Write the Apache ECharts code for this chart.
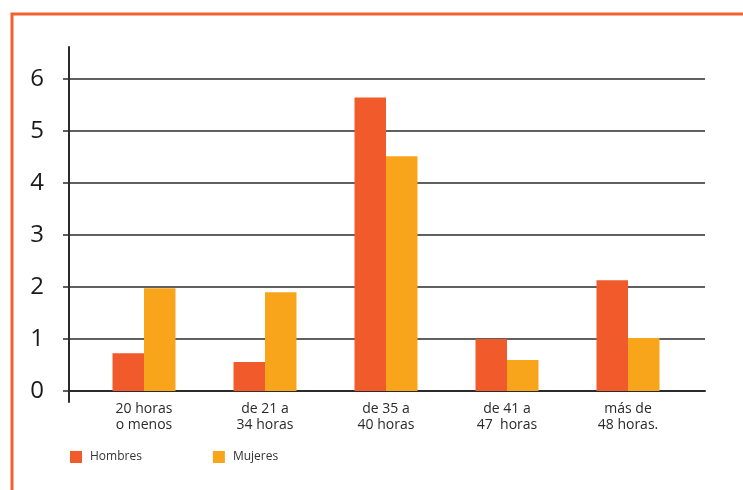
<!DOCTYPE html>
<html>
<head>
<meta charset="utf-8">
<script src="https://cdn.jsdelivr.net/npm/echarts@6/dist/echarts.min.js"></script>
<style>
html,body{margin:0;padding:0;background:#fff;}
#chart{width:743px;height:490px;}
</style>
</head>
<body>
<div id="chart"></div>
<script>
const categories = ['20 horas\no menos', 'de 21 a\n34 horas', 'de 35 a\n40 horas', 'de 41 a\n47  horas', 'más de\n48 horas.'];
const hombres = [0.73, 0.56, 5.65, 1.0, 2.13];
const mujeres = [1.98, 1.9, 4.52, 0.6, 1.02];
const yTicks = [0, 1, 2, 3, 4, 5, 6];

const chart = echarts.init(document.getElementById('chart'));
const yMin = -0.21, yMax = 6.62;
chart.setOption({
  animation: false,
  backgroundColor: '#fff',
  graphic: [{
    type: 'rect', left: 9.5, top: 11.5, silent: true,
    shape: { x: 0, y: 0, width: 800, height: 600 },
    style: { fill: 'none', stroke: '#f26130', lineWidth: 3 }
  }],
  legend: {
    left: 65, top: 446, itemWidth: 12, itemHeight: 12, itemGap: 71,
    icon: 'rect',
    textStyle: { fontFamily: 'Open Sans', fontSize: 12, color: '#333', padding: [0, 0, 0, 3] },
    data: ['Hombres', 'Mujeres']
  },
  grid: [
    { left: 69, right: 38, top: 47, bottom: 88 },
    { left: 83.5, right: 54.5, top: 47, bottom: 88 }
  ],
  xAxis: [
    { gridIndex: 0, type: 'category', data: categories,
      axisLine: { onZero: true, lineStyle: { color: '#2b2b2b', width: 2 } },
      axisTick: { show: false }, axisLabel: { show: false }, splitLine: { show: false } },
    { gridIndex: 1, type: 'category', data: categories,
      axisLine: { show: false }, axisTick: { show: false },
      axisLabel: { margin: -1, fontFamily: 'Open Sans', fontSize: 14, lineHeight: 16, color: '#2a2a2a', interval: 0 } }
  ],
  yAxis: [
    { gridIndex: 0, type: 'value', min: yMin, max: yMax,
      axisLine: { show: true, lineStyle: { color: '#2b2b2b', width: 2 } },
      axisTick: { show: true, length: 6, customValues: yTicks, lineStyle: { color: '#2b2b2b', width: 1.5 } },
      axisLabel: { customValues: yTicks, margin: 25, fontFamily: 'Open Sans', fontSize: 24, color: '#1a1a1a' },
      splitLine: { show: true, lineStyle: { color: '#2b2b2b', width: 1.5 } } },
    { gridIndex: 1, type: 'value', min: yMin, max: yMax, show: false, splitLine: { show: false } }
  ],
  series: [
    { name: 'Hombres', type: 'bar', xAxisIndex: 1, yAxisIndex: 1, data: hombres,
      barWidth: 31.5, barGap: '0%', itemStyle: { color: '#f15a2b' } },
    { name: 'Mujeres', type: 'bar', xAxisIndex: 1, yAxisIndex: 1, data: mujeres,
      barWidth: 31.5, barGap: '0%', itemStyle: { color: '#f9a51c' } }
  ]
});
</script>
</body>
</html>
